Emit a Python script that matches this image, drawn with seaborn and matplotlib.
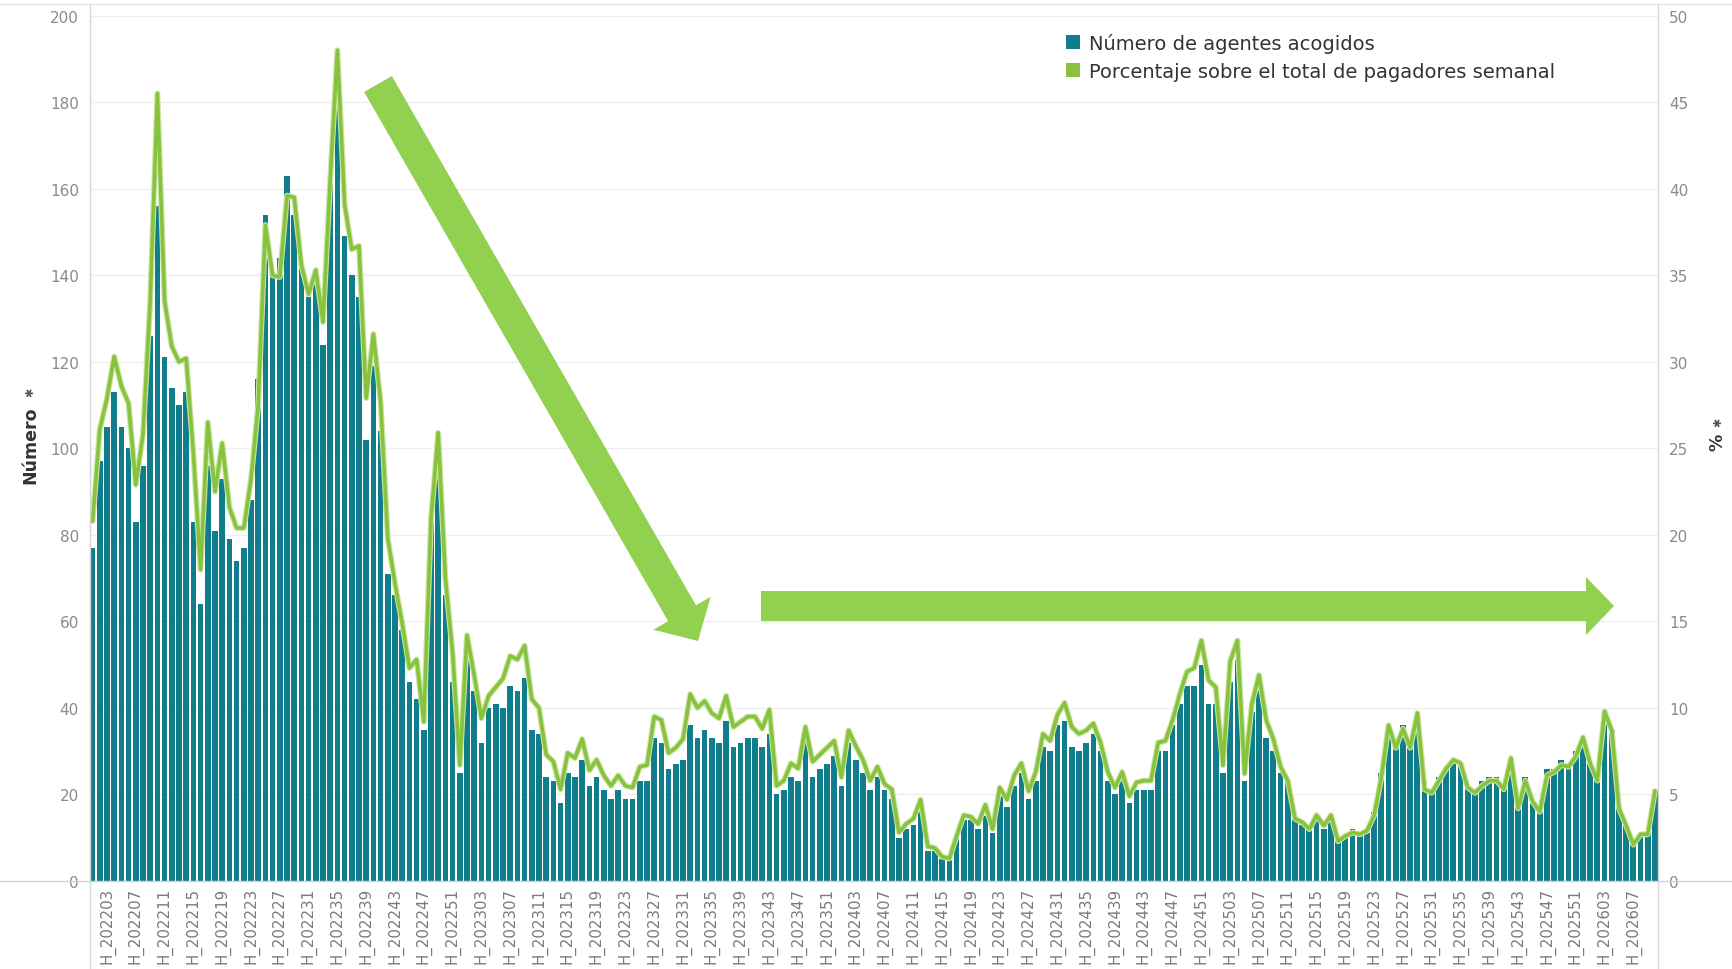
import numpy as np
import pandas as pd
import matplotlib
matplotlib.use("Agg")
import matplotlib.pyplot as plt
import matplotlib.patheffects as pe
import seaborn as sns
from matplotlib.patches import Polygon, Patch
from matplotlib.lines import Line2D

# Weekly periods: 2022-W01 ... 2026-W10
years = [2022, 2023, 2024, 2025, 2026]
weeks_per_year = [52, 52, 52, 52, 10]
semanas = [f"H_{y}{w:02d}" for y, n in zip(years, weeks_per_year) for w in range(1, n + 1)]

agentes = [
    77, 97, 105, 113, 105, 100, 83, 96, 126, 156, 121, 114, 110, 113, 83, 64, 96, 81, 93, 79,
    74, 77, 88, 116, 154, 140, 144, 163, 154, 143, 135, 139, 124, 161, 183, 149, 140, 135, 102, 119,
    104, 71, 66, 58, 46, 42, 35, 83, 97, 66, 46, 25, 52, 44, 32, 40, 41, 40, 45, 44,
    47, 35, 34, 24, 23, 18, 25, 24, 28, 22, 24, 21, 19, 21, 19, 19, 23, 23, 33, 32,
    26, 27, 28, 36, 33, 35, 33, 32, 37, 31, 32, 33, 33, 31, 34, 20, 21, 24, 23, 32,
    24, 26, 27, 29, 22, 32, 28, 25, 21, 24, 21, 19, 10, 12, 13, 16, 7, 7, 5, 5,
    10, 14, 14, 12, 15, 11, 20, 17, 22, 25, 19, 23, 31, 30, 36, 37, 31, 30, 32, 34,
    30, 23, 20, 23, 18, 21, 21, 21, 30, 30, 36, 41, 45, 45, 50, 41, 41, 25, 46, 51,
    23, 39, 44, 33, 30, 25, 23, 14, 13, 12, 14, 12, 14, 9, 10, 12, 11, 11, 16, 25,
    34, 31, 36, 31, 37, 23, 21, 24, 26, 28, 27, 22, 21, 23, 24, 24, 22, 28, 19, 24,
    19, 16, 26, 26, 28, 26, 30, 32, 27, 25, 39, 35, 17, 13, 9, 11, 11, 21,
]

porcentaje = [
    20.8, 26.1, 27.9, 30.3, 28.6, 27.6, 22.9, 25.8, 33.5, 45.5, 33.5, 30.9, 30.0, 30.2, 24.7, 18.0, 26.5, 22.5, 25.3, 21.6,
    20.4, 20.4, 23.2, 27.5, 37.9, 35.0, 34.9, 39.6, 39.5, 35.6, 33.9, 35.3, 32.3, 40.5, 48.0, 39.1, 36.5, 36.7, 27.9, 31.6,
    27.7, 19.8, 17.2, 14.9, 12.3, 12.8, 9.2, 20.9, 25.9, 17.5, 13.2, 6.7, 14.2, 11.9, 9.4, 10.7, 11.2, 11.7, 13.0, 12.8,
    13.6, 10.5, 10.0, 7.3, 6.9, 5.3, 7.4, 7.1, 8.2, 6.4, 7.0, 6.1, 5.5, 6.1, 5.5, 5.4, 6.6, 6.7, 9.5, 9.3,
    7.4, 7.7, 8.2, 10.8, 10.0, 10.4, 9.7, 9.4, 10.7, 8.9, 9.2, 9.5, 9.5, 8.8, 9.9, 5.5, 5.8, 6.8, 6.5, 8.9,
    6.9, 7.3, 7.7, 8.1, 6.0, 8.7, 7.8, 7.0, 5.8, 6.6, 5.6, 5.3, 2.8, 3.3, 3.6, 4.7, 2.0, 1.9, 1.4, 1.3,
    2.6, 3.8, 3.7, 3.3, 4.4, 3.0, 5.4, 4.7, 6.1, 6.8, 5.2, 6.3, 8.5, 8.1, 9.6, 10.3, 8.9, 8.5, 8.7, 9.1,
    8.0, 6.3, 5.4, 6.3, 4.9, 5.7, 5.8, 5.8, 8.0, 8.1, 9.3, 10.8, 12.1, 12.3, 13.9, 11.6, 11.2, 6.7, 12.7, 13.9,
    6.2, 10.2, 11.9, 9.3, 8.2, 6.6, 5.8, 3.6, 3.4, 3.0, 3.8, 3.2, 3.8, 2.3, 2.6, 2.8, 2.7, 2.9, 3.8, 6.0,
    9.0, 7.7, 8.8, 7.7, 9.7, 5.3, 5.1, 5.8, 6.5, 7.0, 6.8, 5.4, 5.1, 5.5, 5.8, 5.8, 5.3, 7.1, 4.2, 5.8,
    4.6, 4.0, 6.1, 6.3, 6.7, 6.6, 7.2, 8.3, 6.8, 5.8, 9.8, 8.7, 4.2, 3.2, 2.1, 2.7, 2.7, 5.2,
]

serie_barras = "Número de agentes acogidos"
serie_linea = "Porcentaje sobre el total de pagadores semanal"
left_ticks = list(range(0, 201, 20))
right_ticks = list(range(0, 51, 5))
tick_labels = semanas[2::4]

TEAL = "#0f7d8c"
LIME = "#88c23f"
ARROW = "#92d050"
GRID = "#efefef"
FRAME = "#d4d4d4"
TICK = "#8a8a8a"

df = pd.DataFrame({"semana": semanas, "agentes": agentes, "porcentaje": porcentaje})
df["pos"] = np.arange(len(df))

sns.set_theme(style="white")
plt.rcParams["font.family"] = ["DejaVu Sans"]

W, H = 1733, 970
fig = plt.figure(figsize=(W / 100, H / 100), dpi=100)
fig.patch.set_facecolor("white")

ax = fig.add_axes([90 / W, 88 / H, (1658 - 90) / W, (882 - 5) / H])
sns.barplot(data=df, x="semana", y="agentes", color=TEAL, saturation=1,
            width=0.8, linewidth=0, ax=ax, zorder=2)
ax.set_xlim(-0.36, len(df) - 1 + 0.42)
ax.set_ylim(0, 202.7)
ax.set_yticks(left_ticks)
ax.yaxis.grid(True, color=GRID, linewidth=1.0, zorder=0)
ax.set_axisbelow(True)
ax.set_xticks([semanas.index(t) for t in tick_labels])
ax.set_xticklabels(tick_labels, rotation=90, va="top", ha="center")
ax.tick_params(axis="x", length=0, pad=4, labelsize=10.8, labelcolor="#7a7a7a")
ax.tick_params(axis="y", length=0, pad=8, labelsize=11, labelcolor=TICK)
ax.set_xlabel("")
ax.set_ylabel("")
for s in ax.spines.values():
    s.set_visible(False)

ax2 = ax.twinx()
sns.lineplot(data=df, x="pos", y="porcentaje", color=LIME, linewidth=2.6, ax=ax2,
             path_effects=[pe.Stroke(linewidth=4.2, foreground="#c9e6a2"), pe.Normal()])
ax2.set_xlim(ax.get_xlim())
ax2.set_ylim(0, 202.7 / 4)
ax2.set_yticks(right_ticks)
ax2.tick_params(axis="y", length=0, pad=8, labelsize=11, labelcolor=TICK)
ax2.set_ylabel("")
ax2.set_xlabel("")
for s in ax2.spines.values():
    s.set_visible(False)

# axis titles with their pin icons
fig.text(30 / W, 1 - 445 / H, "Número", fontsize=12.5, fontweight="bold", color="#333333",
         rotation=90, ha="center", va="center")
fig.text(30 / W, 1 - 392 / H, "✱", fontsize=8, color="#555555", ha="center", va="center", rotation=90)
fig.text(1718 / W, 1 - 442 / H, "%", fontsize=12.5, fontweight="bold", color="#333333",
         rotation=90, ha="center", va="center")
fig.text(1718 / W, 1 - 422 / H, "✱", fontsize=8, color="#555555", ha="center", va="center", rotation=90)

# frame lines of the view
fig.add_artist(Line2D([0, 1], [1 - 882 / H, 1 - 882 / H], transform=fig.transFigure, color=FRAME, lw=1))
fig.add_artist(Line2D([90 / W, 90 / W], [0, 1 - 5 / H], transform=fig.transFigure, color=FRAME, lw=1))
fig.add_artist(Line2D([1658 / W, 1658 / W], [0, 1 - 5 / H], transform=fig.transFigure, color=FRAME, lw=1))
fig.add_artist(Line2D([0, 1], [1 - 5 / H, 1 - 5 / H], transform=fig.transFigure, color="#e4e4e4", lw=1))


def flecha(tail, tip, shaft_w, head_w, head_l, color):
    """Block arrow defined in figure pixels (origin top-left)."""
    t = np.array(tail, float)
    p = np.array(tip, float)
    d = p - t
    u = d / np.hypot(*d)
    n = np.array([-u[1], u[0]])
    b = p - u * head_l
    pts = [t + n * shaft_w / 2, b + n * shaft_w / 2, b + n * head_w / 2, p,
           b - n * head_w / 2, b - n * shaft_w / 2, t - n * shaft_w / 2]
    pts = [(x / W, 1 - y / H) for x, y in pts]
    fig.patches.append(Polygon(pts, closed=True, transform=fig.transFigure,
                               facecolor=color, edgecolor="none", zorder=5))


flecha((378, 85), (698, 642), 32, 66, 32, ARROW)
flecha((761, 607), (1614, 607), 30, 58, 28, ARROW)

handles = [Patch(facecolor=TEAL, edgecolor="none"), Patch(facecolor=LIME, edgecolor="none")]
fig.legend(handles, [serie_barras, serie_linea], loc="upper left",
           bbox_to_anchor=(1066 / W, 1 - 34 / H), frameon=False, fontsize=14,
           handlelength=0.72, handleheight=0.72, handletextpad=0.45, labelspacing=0.45,
           borderpad=0, borderaxespad=0, labelcolor="#333333")

fig.savefig("out.png", dpi=100, facecolor="white")
